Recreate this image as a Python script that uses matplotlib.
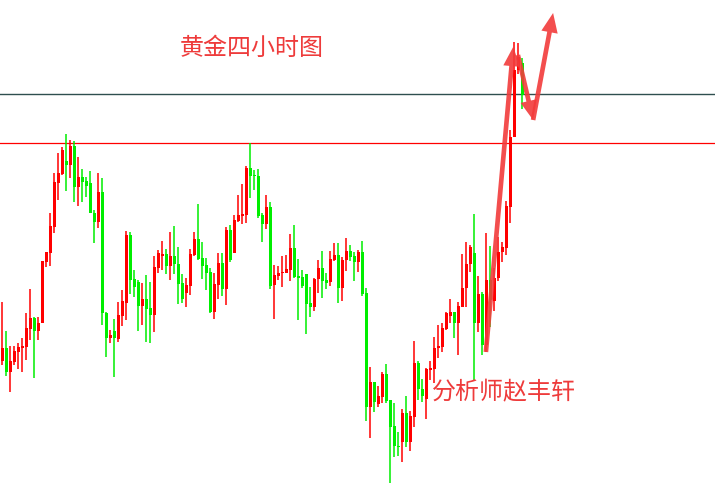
import matplotlib
matplotlib.use("Agg")
import matplotlib.pyplot as plt
import numpy as np

plt.rcParams['font.family'] = ['Noto Sans CJK SC', 'DejaVu Sans']

# 4-hour gold candles (arbitrary price units)
opens = [139.3, 151.7, 128.3, 137.7, 148.3, 151.7, 153.3, 171, 181.7, 169,
         177.3, 238.3, 247.3, 273.3, 317.3, 326, 339, 335, 354, 313.3,
         323.3, 319.3, 316.7, 286.7, 278.3, 308.3, 187.3, 162.3, 169, 161,
         184.3, 197.3, 265, 221, 217.7, 194.3, 201, 192.3, 185, 232.3,
         244, 246, 234.3, 244, 236, 216.7, 206.7, 214.3, 245, 261,
         242.3, 235, 228.3, 188.3, 215, 237.3, 211, 270, 247.3, 279.3,
         284.3, 285, 332.3, 325, 324, 285, 276, 293.3, 215, 224.3,
         227.3, 227.3, 230, 252.3, 224.3, 223.3, 226, 197.3, 193.3, 220.7,
         232.3, 220, 218.3, 240, 245, 212.3, 240, 249, 244, 238.3,
         248.3, 206.7, 93.3, 117.7, 96, 103.3, 126, 100, 74, 54.3,
         58.3, 86.7, 58.3, 83.3, 137.3, 110.7, 101, 130, 131, 151.7,
         153.3, 171, 184.3, 188.3, 176.7, 193.3, 211.7, 235.7, 247.3, 177.3,
         205.7, 155, 220, 199.3, 221.7, 247.7, 251.7, 293.3, 362.7, 430,
         437.3]
highs = [198.3, 169, 154, 154, 156.7, 161.7, 186.7, 211, 182.7, 182.7,
         239, 247.7, 287.3, 326.7, 347.3, 353.3, 366, 360, 359, 343.3,
         331, 322.7, 329, 290, 327.3, 321.7, 188.3, 170, 181, 197.7,
         210, 269, 268, 230, 220, 217.3, 225, 218.3, 244, 250,
         259, 251, 268.3, 274, 253.3, 226, 222.3, 251, 268.3, 296,
         258.3, 242.3, 231.7, 226.7, 247.3, 246.7, 273, 275, 285, 305,
         316, 334, 356.7, 330, 331, 287.3, 305, 298.3, 235, 234,
         244, 245, 266, 275, 241, 230, 226, 213.3, 222.3, 240,
         249.3, 226.7, 249.3, 256.7, 256.7, 243.3, 262.3, 255, 247.7, 250,
         259, 211.7, 133.3, 117.7, 114, 127.7, 136, 100, 96.7, 68.3,
         90.7, 104, 89.3, 159, 139.3, 120.7, 131.7, 139, 163.3, 175,
         176.7, 188.3, 201, 188.3, 198.3, 246, 257.7, 255, 286, 224,
         208.3, 266.7, 254.3, 231.7, 263.3, 258.3, 299, 370, 458.3, 457.3,
         441.7]
lows = [135, 124, 108.3, 135, 130.7, 128.3, 140, 160, 121.7, 160,
        177.3, 232.7, 234, 266.7, 300, 325, 309, 321.7, 298.3, 294,
        298.3, 303.3, 286.7, 256.7, 272.3, 175, 143.3, 156.7, 123.3, 158.3,
        174.3, 180, 206, 203.3, 169, 175, 158.3, 156.7, 168.3, 227.3,
        230, 226, 220, 226, 196, 197.3, 193.3, 205, 244, 240,
        221, 210, 186.7, 181, 201, 204.3, 195, 238.3, 247.3, 278.3,
        276, 277.3, 302.3, 310, 282.3, 258.3, 271, 211, 181, 220,
        213.3, 227.3, 219, 222.3, 180, 211.7, 166, 183.3, 189, 207.3,
        202.3, 210.7, 214.3, 239, 197.3, 199, 229.3, 239, 219, 228.3,
        204.3, 79.3, 61.7, 88.3, 92.7, 96.7, 96.7, 17.3, 43.3, 44.3,
        38.3, 53.3, 49.3, 73.3, 100, 98.3, 81, 120, 116.7, 141.7,
        148.3, 170, 176.7, 162.3, 145, 192.7, 193.3, 228.3, 120, 168.3,
        145, 148.3, 173.3, 189.3, 219, 238.3, 245, 276.7, 362.7, 426,
        390.7]
closes = [151.7, 128.3, 139, 149, 152.7, 154, 171.7, 181.7, 169, 176.7,
          239, 247.7, 274, 318.3, 327.3, 350, 335, 354, 313.3, 323.3,
          318.3, 314, 286.7, 278.3, 308, 187.3, 162.3, 165, 161.7, 185,
          199, 265, 220, 213.3, 194.3, 201, 191, 185, 233.3, 246.7,
          246, 234.3, 244, 236, 216, 201, 215, 246, 261, 241,
          234.3, 226.7, 187.7, 216, 237.3, 211, 270, 240, 280, 285,
          286, 332.3, 324, 324, 284, 276, 293.3, 214.3, 225, 226.7,
          228.3, 231, 252.3, 223.3, 222.3, 214, 196, 193.3, 221, 232.3,
          219.3, 217.3, 241, 245, 212.3, 240, 249, 243.3, 238.3, 248.3,
          206, 93.3, 117.7, 98.3, 104, 126, 99.3, 73.3, 54.3, 53.3,
          86.7, 58.3, 84, 137.3, 110.7, 104.3, 130.7, 131.7, 152.3, 154.3,
          172.3, 186.7, 188.3, 176.7, 194, 212.3, 236, 253.3, 177.3, 205.7,
          155, 220, 200, 221.7, 248.3, 253.3, 294, 362.7, 430, 442.7,
          405]

# key levels
resistance = 405.7
support = 356.7

# hand-drawn forecast path (candle index, price)
path_x = [120.9, 127.75, 128.9, 132.7, 137.7]
path_y = [148, 453.3, 445, 380, 487]

up_color = '#ff0000'
down_color = '#00ee00'
text_color = '#ee3b3b'

o = np.array(opens)
h = np.array(highs)
l = np.array(lows)
c = np.array(closes)
x = np.arange(len(o))
colors = [up_color if cc >= oo else down_color for oo, cc in zip(o, c)]

fig = plt.figure(figsize=(7.15, 4.99), dpi=100)
ax = fig.add_axes([0, 0, 1, 1])

ax.axhline(resistance, color='#2f4f4f', lw=1.0, zorder=1)
ax.axhline(support, color='#ff0000', lw=0.9, zorder=1)

ax.vlines(x, l, h, colors=colors, lw=1.1, zorder=2)
body = np.maximum(np.abs(c - o), 1.2)
ax.bar(x, body, bottom=np.minimum(o, c), width=0.72, color=colors,
       linewidth=0, zorder=3)

# forecast arrows
arrow_kw = dict(arrowstyle='simple,head_length=1.0,head_width=0.85,tail_width=0.24',
                color='#f23b3b', alpha=0.9, lw=0, mutation_scale=14,
                shrinkA=0, shrinkB=0)
ax.annotate('', xy=(path_x[1], path_y[1]), xytext=(path_x[0], path_y[0]),
            arrowprops=arrow_kw, zorder=5)
ax.annotate('', xy=(path_x[3], path_y[3]), xytext=(path_x[2], path_y[2]),
            arrowprops=arrow_kw, zorder=5)
ax.annotate('', xy=(path_x[4], path_y[4]), xytext=(path_x[3], path_y[3]),
            arrowprops=arrow_kw, zorder=5)

ax.text(180 / 715, 1 - 48 / 499, '黄金四小时图', transform=ax.transAxes,
        fontsize=17.3, color=text_color, ha='left', va='center')
ax.text(432 / 715, 1 - 392 / 499, '分析师赵丰轩', transform=ax.transAxes,
        fontsize=17.3, color=text_color, ha='left', va='center')

ax.set_xlim(-0.575, 178.175)
ax.set_ylim(1, 500)
ax.axis('off')

plt.savefig('out.png', dpi=100, facecolor='white')
